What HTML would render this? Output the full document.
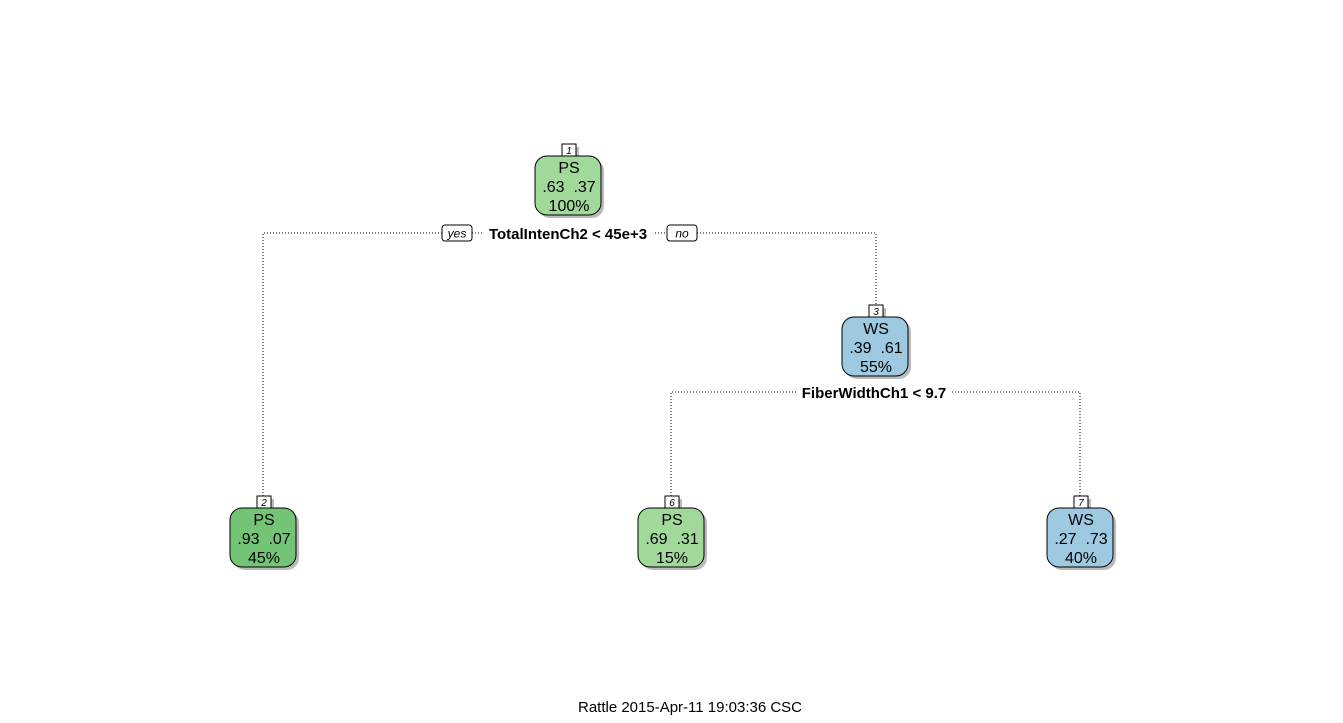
<!DOCTYPE html>
<html><head><style>body{margin:0;background:#fff}</style></head><body>
<svg width="1343" height="718" xmlns="http://www.w3.org/2000/svg" font-family="Liberation Sans, sans-serif">
<g stroke="#000" stroke-dasharray="1,2" fill="none" stroke-width="1">
<path d="M263 496 V233 H442 M472 233 H482 M655 233 H667 M697 233 H876 V305"/>
<path d="M671 496 V392 H796 M952 392 H1080 V496"/>
</g>
<rect x="442" y="225" width="30" height="16" rx="3" fill="#fff" stroke="#000"/>
<text x="457" y="237.5" font-size="12" font-style="italic" text-anchor="middle">yes</text>
<rect x="667" y="225" width="30" height="16" rx="3" fill="#fff" stroke="#000"/>
<text x="682" y="237.5" font-size="12" font-style="italic" text-anchor="middle">no</text>
<text x="568" y="239" font-size="15" font-weight="bold" text-anchor="middle">TotalIntenCh2 &lt; 45e+3</text>
<text x="874" y="398" font-size="15" font-weight="bold" text-anchor="middle">FiberWidthCh1 &lt; 9.7</text>

<g font-size="16" text-anchor="middle" fill="#000">
<g transform="translate(569,144)">
<rect x="-4" y="3" width="14" height="12" fill="#bbb"/>
<rect x="-31" y="15" width="66" height="59" rx="12" fill="#bbb"/>
<rect x="-7" y="0" width="14" height="12" fill="#fff" stroke="#000"/>
<text x="0" y="10" font-size="10" font-style="italic">1</text>
<rect x="-34" y="12" width="66" height="59" rx="12" fill="#a1d99b" stroke="#000"/>
<text x="0" y="29">PS</text><text x="0" y="48">.63 &#160;.37</text><text x="0" y="67">100%</text>
</g>
<g transform="translate(876,305)">
<rect x="-4" y="3" width="14" height="12" fill="#bbb"/>
<rect x="-31" y="15" width="66" height="59" rx="12" fill="#bbb"/>
<rect x="-7" y="0" width="14" height="12" fill="#fff" stroke="#000"/>
<text x="0" y="10" font-size="10" font-style="italic">3</text>
<rect x="-34" y="12" width="66" height="59" rx="12" fill="#9ecae1" stroke="#000"/>
<text x="0" y="29">WS</text><text x="0" y="48">.39 &#160;.61</text><text x="0" y="67">55%</text>
</g>
<g transform="translate(264,496)">
<rect x="-4" y="3" width="14" height="12" fill="#bbb"/>
<rect x="-31" y="15" width="66" height="59" rx="12" fill="#bbb"/>
<rect x="-7" y="0" width="14" height="12" fill="#fff" stroke="#000"/>
<text x="0" y="10" font-size="10" font-style="italic">2</text>
<rect x="-34" y="12" width="66" height="59" rx="12" fill="#74c476" stroke="#000"/>
<text x="0" y="29">PS</text><text x="0" y="48">.93 &#160;.07</text><text x="0" y="67">45%</text>
</g>
<g transform="translate(672,496)">
<rect x="-4" y="3" width="14" height="12" fill="#bbb"/>
<rect x="-31" y="15" width="66" height="59" rx="12" fill="#bbb"/>
<rect x="-7" y="0" width="14" height="12" fill="#fff" stroke="#000"/>
<text x="0" y="10" font-size="10" font-style="italic">6</text>
<rect x="-34" y="12" width="66" height="59" rx="12" fill="#a1d99b" stroke="#000"/>
<text x="0" y="29">PS</text><text x="0" y="48">.69 &#160;.31</text><text x="0" y="67">15%</text>
</g>
<g transform="translate(1081,496)">
<rect x="-4" y="3" width="14" height="12" fill="#bbb"/>
<rect x="-31" y="15" width="66" height="59" rx="12" fill="#bbb"/>
<rect x="-7" y="0" width="14" height="12" fill="#fff" stroke="#000"/>
<text x="0" y="10" font-size="10" font-style="italic">7</text>
<rect x="-34" y="12" width="66" height="59" rx="12" fill="#9ecae1" stroke="#000"/>
<text x="0" y="29">WS</text><text x="0" y="48">.27 &#160;.73</text><text x="0" y="67">40%</text>
</g>
</g>
<text x="690" y="712" font-size="15" text-anchor="middle">Rattle 2015-Apr-11 19:03:36 CSC</text>
</svg>
</body></html>
